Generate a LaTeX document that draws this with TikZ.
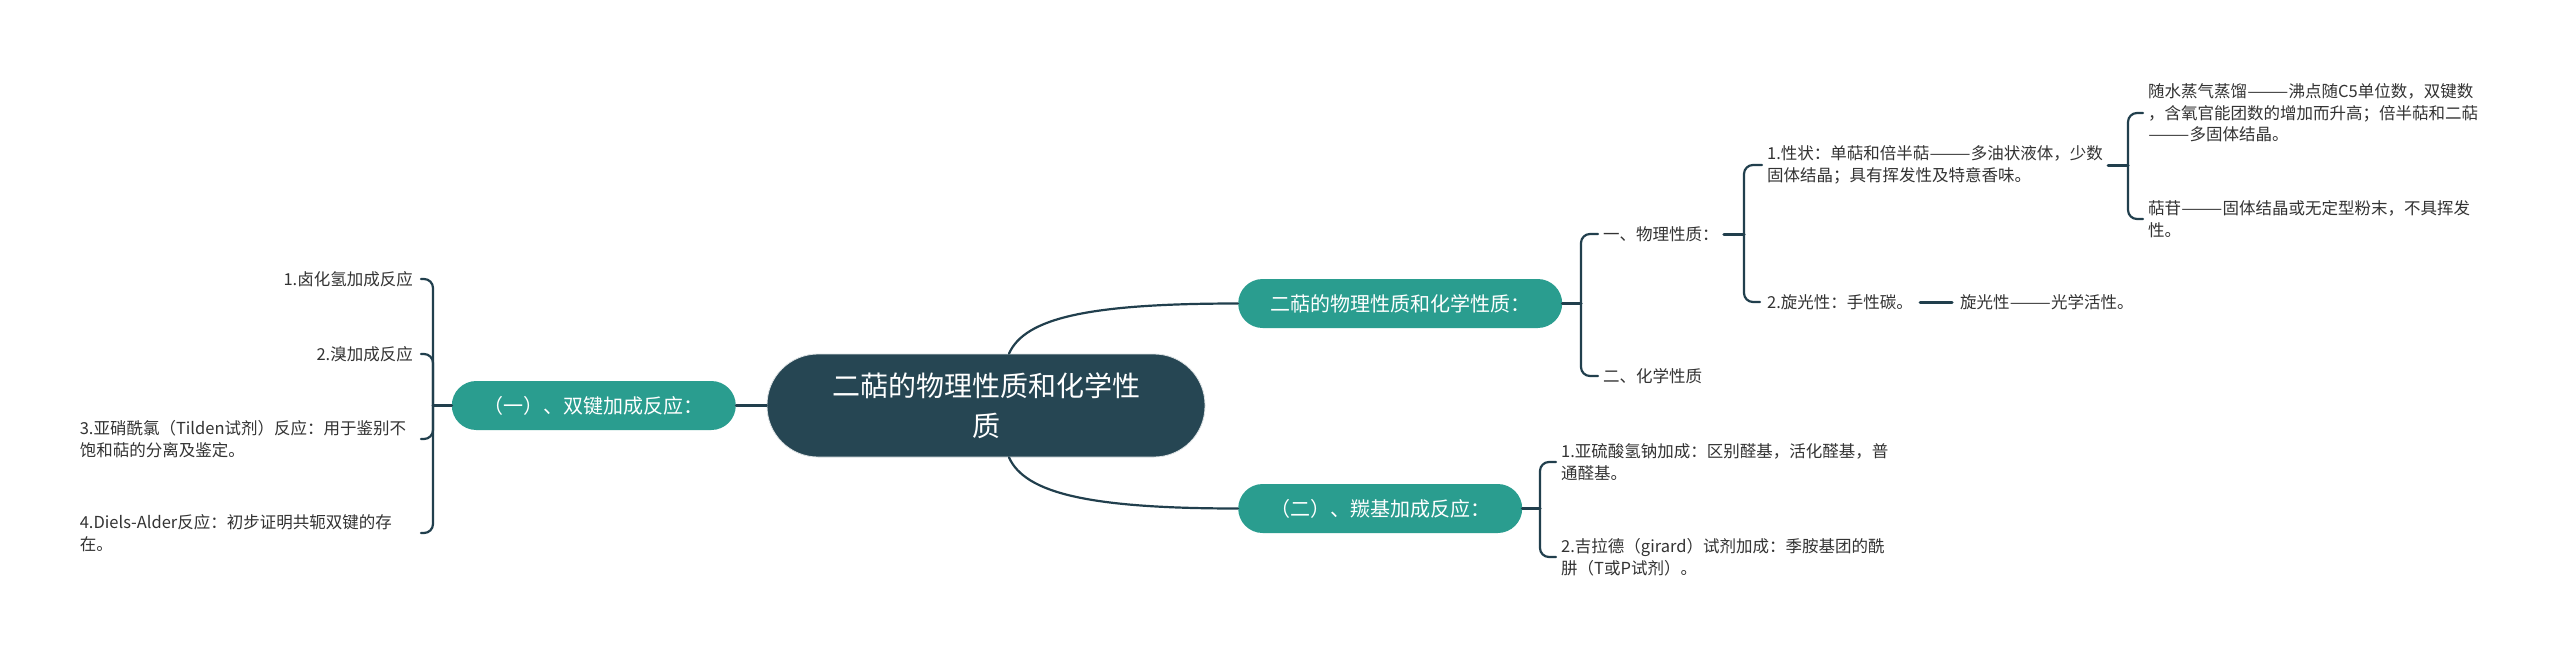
\documentclass[tikz,border=0pt]{standalone}
\usepackage{fontspec}
\setmainfont{Noto Sans CJK SC}
\newfontfamily\dashfont[FakeStretch=1.5]{Noto Sans CJK SC}
\newcommand{\dd}{{\dashfont ——}}
\usetikzlibrary{calc}
\definecolor{teal1}{HTML}{2A9D8F}
\definecolor{dark1}{HTML}{264653}
\definecolor{line1}{HTML}{213F4D}
\definecolor{txt}{HTML}{333333}
\begin{document}
\begin{tikzpicture}[x=1pt,y=-1pt,
  centerbox/.style={fill=dark1, draw=white!85!dark1, line width=0.8pt, text=white, rounded corners=51pt, minimum width=438pt, minimum height=103pt, align=center, font=\fontsize{28}{40}\selectfont, inner sep=0pt},
  mainbox/.style={fill=teal1, text=white, rounded corners=24.5pt, minimum height=49pt, inner xsep=32pt, inner ysep=0pt, font=\fontsize{20}{24}\selectfont},
  leaf/.style={text=txt, align=left, inner xsep=5pt, inner ysep=2pt, font=\fontsize{16.5}{21.5}\selectfont},
  conn/.style={draw=line1, line width=2.2pt, line cap=round},
  bra/.style={conn, rounded corners=9pt},
  stub/.style={conn, line width=3pt},
]
\fill[white] (0,0) rectangle (2560,656);
\useasboundingbox (0,0) rectangle (2560,656);

% main nodes
\node[centerbox] (c) at (986,405.5) {二萜的物理性质和化学性\\质};
\node[mainbox, anchor=east] (L) at (736,405.5) {（一）、双键加成反应：};
\node[mainbox, anchor=west] (R1) at (1238,303.5) {二萜的物理性质和化学性质：};
\node[mainbox, anchor=west] (R2) at (1238,508.5) {（二）、羰基加成反应：};

% left leaves
\node[leaf, anchor=east, inner xsep=8pt] (l1) at (421,279) {1.卤化氢加成反应};
\node[leaf, anchor=east, inner xsep=8pt] (l2) at (421,354) {2.溴加成反应};
\node[leaf, anchor=east, inner xsep=8pt, text width=333pt] (l3) at (421,439) {3.亚硝酰氯（Tilden试剂）反应：用于鉴别不\\饱和萜的分离及鉴定。};
\node[leaf, anchor=east, inner xsep=8pt, text width=333pt] (l4) at (421,533) {4.Diels-Alder反应：初步证明共轭双键的存\\在。};

% right upper
\node[leaf, anchor=west] (r11) at (1598,234) {一、物理性质：};
\node[leaf, anchor=west] (r12) at (1598,376) {二、化学性质};
\node[leaf, anchor=west] (r111) at (1762,165) {1.性状：单萜和倍半萜\dd 多油状液体，少数\\固体结晶；具有挥发性及特意香味。};
\node[leaf, anchor=west, inner xsep=7pt] (r112) at (1760,302) {2.旋光性：手性碳。};
\node[leaf, anchor=west] (r1111) at (2143,113) {随水蒸气蒸馏\dd 沸点随C5单位数，双键数\\，含氧官能团数的增加而升高；倍半萜和二萜\\\dd 多固体结晶。};
\node[leaf, anchor=west] (r1112) at (2143,219) {萜苷\dd 固体结晶或无定型粉末，不具挥发\\性。};
\node[leaf, anchor=west, inner xsep=8pt] (r1121) at (1952,302) {旋光性\dd 光学活性。};

% right lower
\node[leaf, anchor=west] (r21) at (1556,462) {1.亚硫酸氢钠加成：区别醛基，活化醛基，普\\通醛基。};
\node[leaf, anchor=west] (r22) at (1556,557) {2.吉拉德（girard）试剂加成：季胺基团的酰\\肼（T或P试剂）。};

% junctions
\coordinate (jL) at (433,405.5);
\coordinate (jR1) at (1581,303.5);
\coordinate (j11) at (1744,234);
\coordinate (j111) at (2128,165);
\coordinate (jR2) at (1540,508.5);

% connectors from centre
\draw[conn] (c.west) -- (L.east);
\draw[conn] ($(c.north)+(23,0)$) .. controls ($(c.north)+(39,-36)$) and ($(R1.west)+(-148,0)$) .. (R1.west);
\draw[conn] ($(c.south)+(23,0)$) .. controls ($(c.south)+(39,36)$) and ($(R2.west)+(-148,0)$) .. (R2.west);

% left bracket
\draw[stub] (L.west) -- (jL);
\foreach \n in {l1,l2,l3,l4} \draw[bra] (jL) |- (\n.east);

% R1 bracket
\draw[stub] (R1.east) -- (jR1);
\foreach \n in {r11,r12} \draw[bra] (jR1) |- (\n.west);
\draw[stub] (r11.east) -- (j11);
\foreach \n in {r111,r112} \draw[bra] (j11) |- (\n.west);
\draw[stub] (r111.east) -- (j111);
\foreach \n in {r1111,r1112} \draw[bra] (j111) |- (\n.west);
\draw[stub] (r112.east) -- (r1121.west);

% R2 bracket
\draw[stub] (R2.east) -- (jR2);
\foreach \n in {r21,r22} \draw[bra] (jR2) |- (\n.west);
\end{tikzpicture}
\end{document}
